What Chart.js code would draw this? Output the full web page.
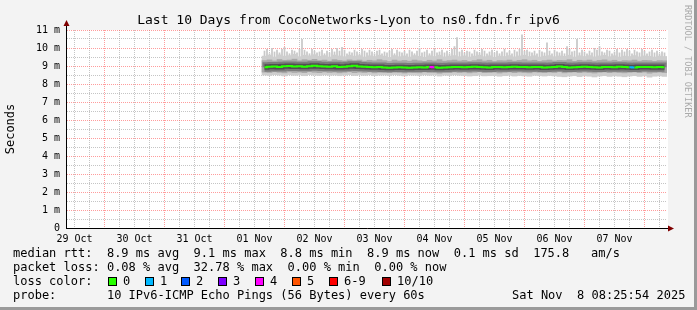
<!DOCTYPE html>
<html>
<head>
<meta charset="utf-8">
<script src="https://cdn.jsdelivr.net/npm/chart.js@4"></script>
<style>
  html, body { margin: 0; padding: 0; background: #f3f3f3; }
  canvas { display: block; }
</style>
</head>
<body>
<canvas id="graph" width="697" height="310"></canvas>
<script>
var titleText = 'Last 10 Days from CocoNetworks-Lyon to ns0.fdn.fr ipv6';
var dayLabels = ['29 Oct', '30 Oct', '31 Oct', '01 Nov', '02 Nov', '03 Nov', '04 Nov', '05 Nov', '06 Nov', '07 Nov'];

// hours counted from 29 Oct 00:00
var axisStartHour = 9;
var axisEndHour = 249;
var firstSampleHour = 88;   // one sample every 2 h
var firstSpikeHour = 88;    // one spike every 1 h
var spikeBase = 9.4;

// median rtt (ms)
var median = [
  8.93, 8.96, 8.97, 8.95, 8.99, 9.00, 8.97, 8.98, 8.96, 8.99,
  9.01, 8.98, 8.97, 8.96, 8.98, 8.95, 8.96, 8.99, 9.02, 8.97,
  8.96, 8.95, 8.93, 8.94, 8.92, 8.90, 8.91, 8.93, 8.92, 8.90,
  8.91, 8.93, 8.92, 8.95, 8.93, 8.90, 8.91, 8.93, 8.95, 8.94,
  8.93, 8.94, 8.96, 8.94, 8.93, 8.92, 8.94, 8.95, 8.93, 8.94,
  8.96, 8.95, 8.94, 8.93, 8.95, 8.94, 8.92, 8.93, 8.95, 8.97,
  8.94, 8.92, 8.93, 8.95, 8.96, 8.94, 8.93, 8.92, 8.94, 8.95,
  8.93, 8.96, 8.94, 8.93, 8.92, 8.94, 8.95, 8.94, 8.93, 8.94,
  8.93
];
// outer smoke (fastest / slowest ping)
var outerLow = [
  8.50, 8.47, 8.52, 8.49, 8.45, 8.51, 8.48, 8.50, 8.46, 8.52,
  8.49, 8.47, 8.51, 8.48, 8.50, 8.46, 8.49, 8.52, 8.47, 8.50,
  8.48, 8.51, 8.46, 8.49, 8.50, 8.47, 8.52, 8.48, 8.45, 8.50,
  8.49, 8.46, 8.51, 8.48, 8.50, 8.44, 8.49, 8.47, 8.51, 8.48,
  8.47, 8.44, 8.46, 8.49, 8.45, 8.46, 8.47, 8.43, 8.46, 8.48,
  8.44, 8.47, 8.45, 8.43, 8.48, 8.46, 8.44, 8.47, 8.45, 8.42,
  8.40, 8.44, 8.46, 8.41, 8.45, 8.43, 8.39, 8.44, 8.46, 8.42,
  8.45, 8.43, 8.40, 8.44, 8.46, 8.42, 8.45, 8.38, 8.43, 8.45,
  8.42
];
var outerHigh = [
  9.55, 9.60, 9.50, 9.62, 9.55, 9.58, 9.65, 9.52, 9.60, 9.57,
  9.63, 9.54, 9.58, 9.50, 9.61, 9.56, 9.52, 9.60, 9.55, 9.58,
  9.50, 9.57, 9.53, 9.60, 9.55, 9.48, 9.58, 9.52, 9.56, 9.50,
  9.58, 9.54, 9.49, 9.57, 9.53, 9.60, 9.51, 9.55, 9.58, 9.52,
  9.56, 9.50, 9.55, 9.60, 9.52, 9.57, 9.49, 9.55, 9.53, 9.58,
  9.51, 9.56, 9.60, 9.53, 9.57, 9.50, 9.55, 9.58, 9.52, 9.56,
  9.54, 9.60, 9.50, 9.57, 9.53, 9.58, 9.51, 9.56, 9.59, 9.52,
  9.57, 9.50, 9.55, 9.53, 9.58, 9.51, 9.56, 9.54, 9.50, 9.55,
  9.53
];
// middle smoke
var innerLow = [
  8.66, 8.64, 8.68, 8.65, 8.62, 8.67, 8.64, 8.66, 8.63, 8.69,
  8.65, 8.63, 8.67, 8.64, 8.66, 8.62, 8.65, 8.68, 8.63, 8.66,
  8.64, 8.67, 8.62, 8.65, 8.66, 8.63, 8.68, 8.64, 8.61, 8.66,
  8.65, 8.62, 8.67, 8.64, 8.66, 8.60, 8.65, 8.63, 8.67, 8.64,
  8.66, 8.62, 8.65, 8.68, 8.63, 8.64, 8.66, 8.61, 8.65, 8.67,
  8.63, 8.66, 8.64, 8.62, 8.67, 8.65, 8.63, 8.66, 8.64, 8.68,
  8.62, 8.65, 8.67, 8.63, 8.66, 8.64, 8.61, 8.65, 8.67, 8.63,
  8.66, 8.64, 8.62, 8.65, 8.67, 8.63, 8.66, 8.60, 8.64, 8.66,
  8.63
];
var innerHigh = [
  9.30, 9.34, 9.28, 9.36, 9.31, 9.33, 9.38, 9.29, 9.35, 9.32,
  9.37, 9.30, 9.33, 9.27, 9.35, 9.31, 9.28, 9.34, 9.30, 9.33,
  9.27, 9.32, 9.29, 9.35, 9.30, 9.25, 9.33, 9.28, 9.31, 9.27,
  9.33, 9.29, 9.26, 9.32, 9.28, 9.35, 9.27, 9.30, 9.33, 9.28,
  9.31, 9.26, 9.30, 9.35, 9.28, 9.32, 9.25, 9.30, 9.29, 9.33,
  9.27, 9.31, 9.35, 9.29, 9.32, 9.26, 9.30, 9.33, 9.28, 9.31,
  9.30, 9.35, 9.26, 9.32, 9.29, 9.33, 9.27, 9.31, 9.34, 9.28,
  9.32, 9.26, 9.30, 9.29, 9.33, 9.27, 9.31, 9.30, 9.26, 9.30,
  9.29
];
// lost pings out of 10 per sample
var lossCount = [
  0, 0, 0, 0, 0, 0, 0, 0, 0, 0,
  0, 0, 0, 0, 0, 0, 0, 0, 0, 0,
  0, 0, 0, 0, 0, 0, 0, 0, 0, 0,
  0, 0, 0, 0, 4, 0, 0, 0, 0, 0,
  0, 0, 0, 0, 0, 0, 0, 0, 0, 0,
  0, 0, 0, 0, 0, 0, 0, 0, 0, 0,
  0, 0, 0, 0, 0, 0, 0, 0, 0, 0,
  0, 0, 0, 0, 1, 0, 0, 0, 0, 0,
  0
];
// hourly slowest-ping spikes (ms)
var spikeTop = [
  9.85, 9.95, 9.70, 10.00, 9.80, 9.90, 9.75, 9.95, 10.05, 9.80, 9.70, 9.90,
  9.85, 9.75, 9.95, 10.50, 9.90, 9.80, 9.70, 9.95, 9.85, 9.75, 9.80, 9.90,
  9.70, 9.85, 9.75, 9.95, 9.80, 10.00, 9.85, 10.05, 9.90, 9.70, 9.80, 9.75,
  9.90, 9.80, 9.70, 9.95, 9.85, 9.75, 9.90, 9.80, 9.70, 9.85, 9.90, 9.70,
  9.80, 9.75, 9.85, 9.95, 9.70, 9.90, 9.80, 9.75, 9.85, 9.70, 9.90, 9.80,
  9.70, 9.85, 10.00, 9.75, 9.80, 9.90, 9.70, 9.85, 9.95, 9.75, 9.80, 9.90,
  9.75, 9.85, 9.70, 9.95, 10.10, 10.60, 9.80, 9.90, 9.75, 9.85, 9.80, 9.70,
  9.90, 9.80, 9.75, 9.95, 9.85, 9.70, 9.80, 9.90, 9.75, 9.85, 9.70, 9.80,
  9.95, 9.75, 9.85, 9.70, 9.90, 9.80, 9.95, 10.75, 9.85, 9.90, 9.80, 9.75,
  9.85, 9.70, 9.90, 9.80, 9.75, 10.30, 9.85, 9.70, 9.90, 9.80, 9.75, 9.85,
  9.70, 10.10, 9.95, 9.80, 9.85, 10.50, 9.75, 9.90, 9.80, 9.70, 9.85, 9.75,
  10.00, 9.90, 10.10, 9.80, 9.75, 9.90, 9.85, 9.70, 9.80, 9.95, 9.75, 9.90,
  9.80, 9.95, 9.85, 9.70, 9.90, 9.80, 9.75, 9.95, 9.85, 9.70, 9.80, 9.90,
  9.75, 9.85, 9.70, 9.80, 9.75
];

var lossColors = ['#26ff00', '#00b8ff', '#0059ff', '#7e00ff', '#ff00ff', '#ff5500',
  '#ff0000', '#ff0000', '#ff0000', '#ff0000', '#a10000'];
var lossLegend = [['0', '#26ff00'], ['1', '#00b8ff'], ['2', '#0059ff'], ['3', '#7e00ff'],
  ['4', '#ff00ff'], ['5', '#ff5500'], ['6-9', '#ff0000'], ['10/10', '#a10000']];
var lossLegendX = [108, 145, 181, 218, 255, 292, 329, 382];

var legendLines = [
  'median rtt:  8.9 ms avg  9.1 ms max  8.8 ms min  8.9 ms now  0.1 ms sd  175.8   am/s',
  'packet loss: 0.08 % avg  32.78 % max  0.00 % min  0.00 % now',
  'loss color:',
  'probe:       10 IPv6-ICMP Echo Pings (56 Bytes) every 60s'
];
var dateText = 'Sat Nov  8 08:25:54 2025';

var majorGrid = 'rgba(255, 90, 90, 0.6)';
var minorGrid = 'rgba(150, 150, 150, 0.55)';
var mono = '"DejaVu Sans Mono", monospace';

function points(arr) {
  return arr.map(function (v, i) { return { x: firstSampleHour + 2 * i, y: v }; });
}
function band(lo, hi) {
  return lo.map(function (v, i) { return { x: firstSampleHour + 2 * i, y: [v, hi[i]] }; });
}
var spikePoints = spikeTop.map(function (v, i) { return { x: firstSpikeHour + i, y: [spikeBase, v] }; });

var rrdDecor = {
  id: 'rrdDecor',
  beforeDraw: function (chart) {
    var c = chart.ctx, a = chart.chartArea, w = chart.width, h = chart.height;
    c.save();
    c.fillStyle = '#f3f3f3';
    c.fillRect(0, 0, w, h);
    c.fillStyle = '#9a9a9a';
    c.fillRect(0, h - 3, w, 3);
    c.fillRect(w - 3, 0, 3, h);
    c.fillStyle = '#ffffff';
    c.fillRect(a.left, a.top, a.right - a.left + 1, a.bottom - a.top);
    c.restore();
  },
  afterDraw: function (chart) {
    var c = chart.ctx, a = chart.chartArea;
    c.save();
    // axes
    c.strokeStyle = '#000';
    c.lineWidth = 1;
    c.beginPath();
    c.moveTo(a.left - 0.5, a.bottom + 0.5);
    c.lineTo(a.left - 0.5, a.top - 5);
    c.moveTo(a.left - 1, a.bottom + 0.5);
    c.lineTo(a.right + 2, a.bottom + 0.5);
    c.stroke();
    c.fillStyle = '#7f0000';
    c.beginPath();
    c.moveTo(a.left - 0.5, a.top - 10);
    c.lineTo(a.left - 3.5, a.top - 4);
    c.lineTo(a.left + 2.5, a.top - 4);
    c.closePath();
    c.fill();
    c.beginPath();
    c.moveTo(a.right + 7, a.bottom + 0.5);
    c.lineTo(a.right + 1, a.bottom - 2.5);
    c.lineTo(a.right + 1, a.bottom + 3.5);
    c.closePath();
    c.fill();

    // title
    c.fillStyle = '#000';
    c.font = '13px ' + mono;
    c.textAlign = 'center';
    c.textBaseline = 'alphabetic';
    c.fillText(titleText, chart.width / 2, 24);

    // y axis title
    c.save();
    c.translate(11, (a.top + a.bottom) / 2);
    c.rotate(-Math.PI / 2);
    c.font = '12px ' + mono;
    c.textBaseline = 'middle';
    c.fillText('Seconds', 0, 0);
    c.restore();

    // watermark
    c.save();
    c.translate(687, 5);
    c.rotate(Math.PI / 2);
    c.font = '8.5px ' + mono;
    c.fillStyle = '#aaaaaa';
    c.textAlign = 'left';
    c.textBaseline = 'middle';
    c.fillText('RRDTOOL / TOBI OETIKER', 0, 0);
    c.restore();

    // legend
    c.font = '12px ' + mono;
    c.textAlign = 'left';
    c.textBaseline = 'alphabetic';
    var base = [257, 271, 285, 299];
    legendLines.forEach(function (t, i) { c.fillText(t, 13, base[i]); });
    c.fillText(dateText, 512, base[3]);
    lossLegend.forEach(function (item, i) {
      var x = lossLegendX[i];
      c.fillStyle = item[1];
      c.fillRect(x, 277, 9, 9);
      c.strokeStyle = '#000';
      c.strokeRect(x + 0.5, 277.5, 8, 8);
      c.fillStyle = '#000';
      c.fillText(item[0], x + 15, base[2]);
    });
    c.restore();
  }
};

var tickFont = { family: mono, size: 10 };

new Chart(document.getElementById('graph').getContext('2d'), {
  type: 'bar',
  data: {
    datasets: [{
      type: 'line',
      data: points(median),
      borderColor: lossColors[0],
      borderWidth: 2,
      pointRadius: 0,
      stepped: 'middle',
      fill: false,
      order: 0,
      segment: {
        borderColor: function (ctx) { return lossColors[lossCount[ctx.p1DataIndex]]; }
      }
    }, {
      type: 'line',
      data: points(median),
      borderColor: '#505050',
      borderWidth: 5,
      pointRadius: 0,
      stepped: 'middle',
      fill: false,
      order: 1
    }, {
      type: 'line',
      data: points(median),
      borderColor: '#7c7c7c',
      borderWidth: 9,
      pointRadius: 0,
      stepped: 'middle',
      fill: false,
      order: 2
    }, {
      data: band(innerLow, innerHigh),
      backgroundColor: '#a8a8a8',
      barPercentage: 1,
      categoryPercentage: 1,
      grouped: false,
      order: 3
    }, {
      data: band(outerLow, outerHigh),
      backgroundColor: '#cecece',
      barPercentage: 1,
      categoryPercentage: 1,
      grouped: false,
      order: 4
    }, {
      xAxisID: 'xs',
      data: spikePoints,
      backgroundColor: '#c8c8c8',
      barPercentage: 0.7,
      categoryPercentage: 1,
      grouped: false,
      order: 5
    }]
  },
  options: {
    responsive: false,
    animation: false,
    events: [],
    layout: { padding: { top: 30, right: 30, bottom: 62, left: 0 } },
    plugins: {
      legend: { display: false },
      tooltip: { enabled: false }
    },
    scales: {
      x: {
        type: 'linear',
        min: axisStartHour,
        max: axisEndHour,
        offset: false,
        afterBuildTicks: function (scale) {
          var t = [];
          for (var h = 12; h < axisEndHour; h += 6) t.push({ value: h });
          scale.ticks = t;
        },
        afterFit: function (scale) { scale.height = 20; },
        grid: {
          offset: false,
          drawTicks: false,
          color: function (ctx) { return ctx.tick && ctx.tick.value % 24 === 0 ? majorGrid : minorGrid; }
        },
        border: { display: false, dash: [1, 1] },
        ticks: {
          autoSkip: false,
          maxRotation: 0,
          padding: 5,
          color: '#000',
          font: tickFont,
          callback: function (v) { return v % 24 === 12 ? dayLabels[Math.floor(v / 24)] : ''; }
        }
      },
      xs: {
        type: 'linear',
        display: false,
        min: axisStartHour,
        max: axisEndHour,
        offset: false
      },
      y: {
        min: 0,
        max: 11,
        afterFit: function (scale) { scale.width = 67; },
        grid: {
          drawTicks: false,
          color: function (ctx) { return ctx.tick && ctx.tick.value % 1 === 0 ? majorGrid : minorGrid; }
        },
        border: { display: false, dash: [1, 1] },
        ticks: {
          stepSize: 0.5,
          autoSkip: false,
          padding: 7,
          color: '#000',
          font: tickFont,
          callback: function (v) { return v % 1 === 0 ? (v === 0 ? '0' : v + ' m') : ''; }
        }
      }
    }
  },
  plugins: [rrdDecor]
});
</script>
</body>
</html>
